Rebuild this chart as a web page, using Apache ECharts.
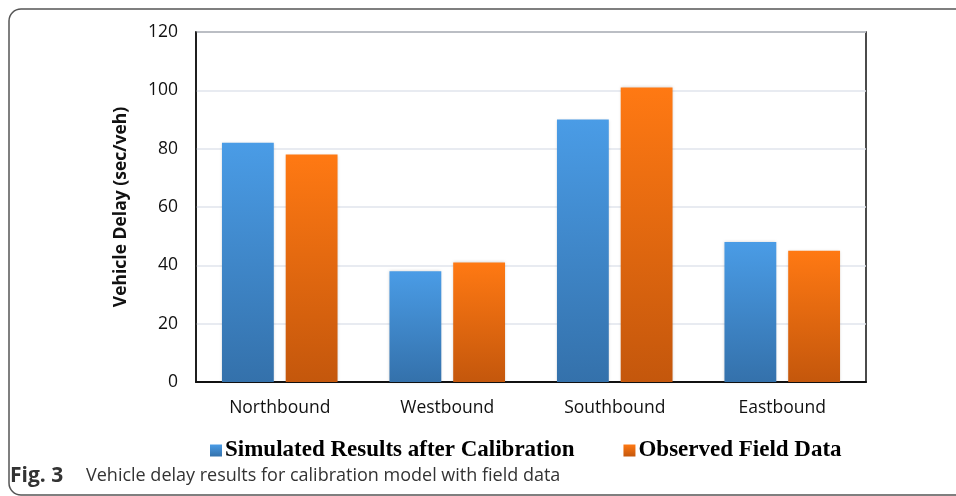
<!DOCTYPE html>
<html>
<head>
<meta charset="utf-8">
<script src="https://cdn.jsdelivr.net/npm/echarts@6/dist/echarts.min.js"></script>
<style>
  html, body { margin: 0; padding: 0; background: #fff; }
  #chart { width: 956px; height: 496px; }
</style>
</head>
<body>
<div id="chart"></div>
<script>
// Approach directions and delay values (sec/veh)
const categories = ['Northbound', 'Westbound', 'Southbound', 'Eastbound'];
const simulated = [82, 38, 90, 48];
const observed = [78, 41, 101, 45];
const seriesNames = ['Simulated Results after Calibration', 'Observed Field Data'];
const yTicks = { min: 0, max: 120, interval: 20 };

const chart = echarts.init(document.getElementById('chart'));

function grad(top, bottom) {
  return new echarts.graphic.LinearGradient(0, 0, 0, 1, [
    { offset: 0, color: top },
    { offset: 1, color: bottom }
  ]);
}

const tickFont = { fontFamily: 'Open Sans', fontSize: 17.5, color: '#111' };

chart.setOption({
  animation: false,
  backgroundColor: '#fff',
  graphic: [
    {
      type: 'rect',
      shape: { x: 9, y: 9, width: 1000, height: 486, r: 12 },
      style: { fill: 'none', stroke: '#555', lineWidth: 1.5 },
      silent: true
    },
    {
      type: 'text',
      left: 10,
      top: 466,
      style: {
        text: 'Fig. 3',
        fontFamily: 'Open Sans',
        fontWeight: 'bold',
        fontSize: 21,
        fill: '#333'
      }
    },
    {
      type: 'text',
      left: 86,
      top: 467,
      style: {
        text: 'Vehicle delay results for calibration model with field data',
        fontFamily: 'Open Sans',
        fontSize: 18,
        fill: '#333'
      }
    }
  ],
  grid: { left: 196, right: 90, top: 32, bottom: 114, show: true, borderColor: '#111', borderWidth: 1.5 },
  legend: {
    left: 205,
    top: 434,
    icon: 'rect',
    itemWidth: 12,
    itemHeight: 12,
    itemGap: 49,
    textStyle: { fontFamily: 'Liberation Serif', fontWeight: 'bold', fontSize: 23, color: '#000', padding: [0, 0, 0, -2] },
    data: seriesNames
  },
  xAxis: {
    type: 'category',
    data: categories,
    axisLine: { lineStyle: { color: '#111', width: 2 } },
    axisTick: { show: false },
    axisLabel: { ...tickFont, margin: 17 }
  },
  yAxis: {
    type: 'value',
    min: yTicks.min,
    max: yTicks.max,
    interval: yTicks.interval,
    name: 'Vehicle Delay (sec/veh)',
    nameLocation: 'middle',
    nameGap: 66,
    nameTextStyle: { fontFamily: 'Open Sans', fontWeight: 'bold', fontSize: 17.5, color: '#111' },
    axisLine: { show: true, lineStyle: { color: '#111', width: 1.5 } },
    axisTick: { show: false },
    axisLabel: { ...tickFont, margin: 18 },
    splitLine: { lineStyle: { color: '#e1e5ec', width: 1.5 } }
  },
  series: [
    {
      name: seriesNames[0],
      type: 'bar',
      data: simulated,
      barGap: '23%',
      barCategoryGap: '31%',
      itemStyle: {
        color: grad('#4a9ce6', '#3471ab'),
        shadowBlur: 3,
        shadowColor: 'rgba(0,0,0,0.18)'
      }
    },
    {
      name: seriesNames[1],
      type: 'bar',
      data: observed,
      itemStyle: {
        color: grad('#ff7913', '#c4570c'),
        shadowBlur: 3,
        shadowColor: 'rgba(0,0,0,0.18)'
      }
    }
  ]
});
</script>
</body>
</html>
